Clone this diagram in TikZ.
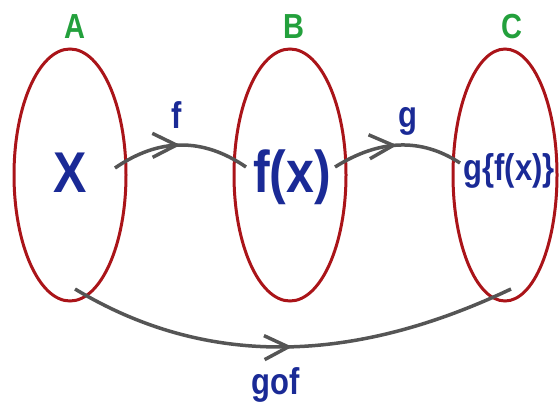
\documentclass[tikz,border=0pt]{standalone}
\usepackage{fontspec}
\setmainfont{Liberation Sans}
\usetikzlibrary{shapes.geometric,arrows.meta,decorations.markings}
\definecolor{ered}{RGB}{170,20,25}
\definecolor{egreen}{RGB}{35,160,60}
\definecolor{eblue}{RGB}{26,42,150}
\definecolor{egray}{RGB}{85,85,85}
\newcommand{\vstretch}[2]{\scalebox{1}[#1]{#2}}
\begin{document}
\begin{tikzpicture}[x=1pt,y=-1pt,
  setell/.style={draw=ered, line width=3pt, ellipse, minimum height=252pt, inner sep=0pt},
  setlbl/.style={text=egreen, font=\fontsize{29}{29}\selectfont\bfseries, anchor=base, inner sep=0pt},
  bigtxt/.style={text=eblue, font=\fontsize{50}{50}\selectfont\bfseries, anchor=base, inner sep=0pt},
  midtxt/.style={text=eblue, font=\fontsize{31}{31}\selectfont\bfseries, anchor=base, inner sep=0pt},
  maparrow/.style={draw=egray, line width=3.5pt, postaction={decorate},
    decoration={markings, mark=at position 0.5 with {\arrow{Straight Barb[length=24pt,width=24pt]}}}}
]
\useasboundingbox (0,0) rectangle (559,402);
% sets
\node[setell, minimum width=112pt] (setA) at (70,175) {};
\node[setell, minimum width=112pt] (setB) at (290,175) {};
\node[setell, minimum width=104pt] (setC) at (505,175) {};
% set labels
\node[setlbl] (lA) at (75,38) {\vstretch{1.2}{A}};
\node[setlbl] (lB) at (294,38) {\vstretch{1.2}{B}};
\node[setlbl] (lC) at (512,38) {\vstretch{1.2}{C}};
% elements
\node[bigtxt] (x) at (70,192) {\vstretch{1.15}{X}};
\node[bigtxt] (fx) at (292,192) {\vstretch{1.18}{f(x)}};
\node[midtxt] (gfx) at (509,180) {\vstretch{1.2}{g\{f(x)\}}};
% map labels
\node[midtxt] (lf) at (177,128) {\vstretch{1.2}{f}};
\node[midtxt] (lg) at (408,127) {\vstretch{1.2}{g}};
\node[midtxt] (lgof) at (276,394) {\vstretch{1.2}{gof}};
% connector end points
\coordinate (f1) at (115,168);
\coordinate (f2) at (246,167);
\coordinate (g1) at (335,167);
\coordinate (g2) at (460,163);
\coordinate (h1) at (75,289);
\coordinate (h2) at (511,289);
% maps
\draw[maparrow] (f1) .. controls (159,137.7) and (202.7,137.3) .. (f2);
\draw[maparrow] (g1) .. controls (379.7,139) and (421.3,137.7) .. (g2);
\draw[maparrow] (h1) .. controls (203,366.3) and (348.3,366.3) .. (h2);
\end{tikzpicture}
\end{document}
